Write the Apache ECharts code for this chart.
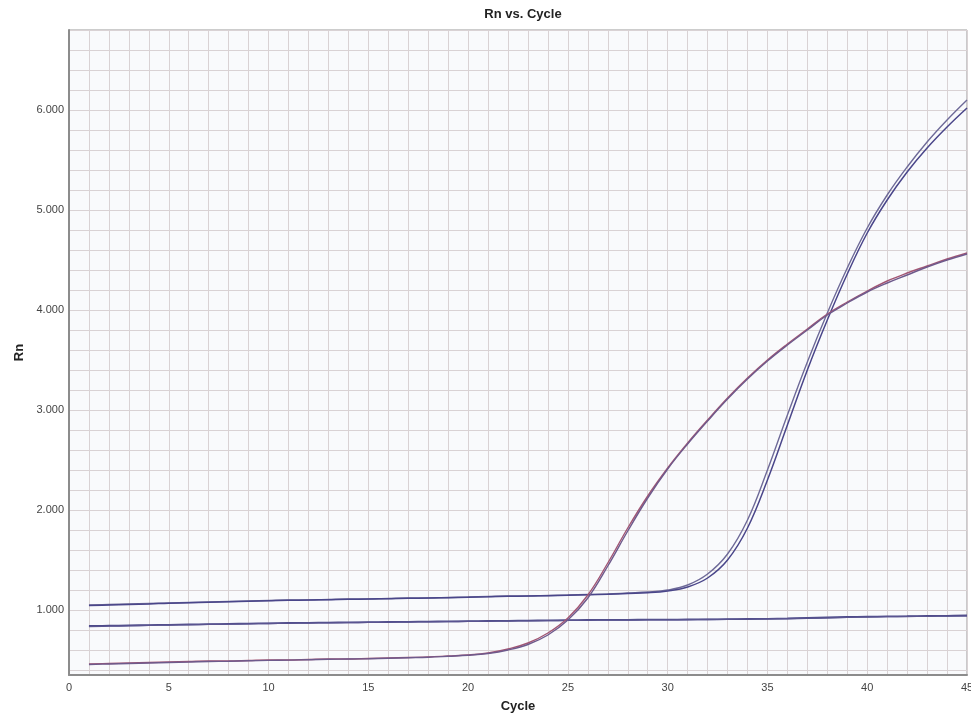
<!DOCTYPE html>
<html>
<head>
<meta charset="utf-8">
<script src="https://cdn.jsdelivr.net/npm/echarts@6/dist/echarts.min.js"></script>
<style>
html,body{margin:0;padding:0;background:#fff;}
#chart{width:971px;height:716px;}
</style>
</head>
<body>
<div id="chart"></div>
<script>
const cycles = [1,2,3,4,5,6,7,8,9,10,11,12,13,14,15,16,17,18,19,20,21,22,23,24,25,26,27,28,29,30,31,32,33,34,35,36,37,38,39,40,41,42,43,44,45];

const upperA1 = [1.050,1.055,1.060,1.065,1.070,1.075,1.080,1.085,1.090,1.095,1.100,1.100,1.105,1.110,1.110,1.115,1.120,1.120,1.125,1.130,1.135,1.140,1.140,1.145,1.150,1.155,1.160,1.170,1.180,1.200,1.250,1.360,1.560,1.900,2.400,2.950,3.480,3.970,4.420,4.820,5.150,5.430,5.680,5.900,6.100];
const upperA2 = [1.045,1.050,1.055,1.060,1.068,1.072,1.078,1.083,1.088,1.093,1.097,1.100,1.103,1.107,1.110,1.113,1.117,1.120,1.123,1.127,1.132,1.137,1.140,1.143,1.147,1.152,1.157,1.165,1.172,1.190,1.230,1.320,1.500,1.820,2.300,2.850,3.400,3.900,4.360,4.770,5.100,5.380,5.620,5.830,6.020];

const middleB1 = [0.840,0.843,0.846,0.849,0.852,0.855,0.858,0.861,0.864,0.867,0.870,0.872,0.874,0.876,0.878,0.880,0.882,0.884,0.886,0.888,0.890,0.892,0.894,0.896,0.898,0.900,0.901,0.902,0.903,0.904,0.905,0.906,0.908,0.910,0.912,0.915,0.920,0.925,0.930,0.933,0.936,0.938,0.940,0.942,0.945];
const middleB2 = [0.835,0.838,0.842,0.846,0.850,0.853,0.856,0.859,0.862,0.865,0.868,0.870,0.872,0.874,0.876,0.878,0.880,0.882,0.884,0.886,0.888,0.890,0.892,0.894,0.896,0.898,0.899,0.900,0.901,0.902,0.903,0.905,0.907,0.909,0.911,0.914,0.918,0.922,0.927,0.930,0.933,0.935,0.937,0.939,0.941];

const lowerC1 = [0.460,0.465,0.470,0.475,0.480,0.485,0.490,0.490,0.495,0.500,0.500,0.505,0.510,0.510,0.515,0.520,0.525,0.530,0.540,0.550,0.570,0.610,0.670,0.770,0.920,1.150,1.470,1.820,2.140,2.420,2.670,2.900,3.120,3.320,3.500,3.660,3.810,3.960,4.080,4.190,4.290,4.370,4.440,4.510,4.570];
const lowerC2 = [0.455,0.460,0.465,0.470,0.475,0.480,0.485,0.488,0.492,0.496,0.499,0.503,0.507,0.510,0.513,0.518,0.523,0.528,0.537,0.547,0.565,0.600,0.655,0.750,0.900,1.120,1.440,1.790,2.120,2.410,2.660,2.890,3.110,3.310,3.490,3.650,3.800,3.950,4.070,4.180,4.270,4.350,4.430,4.500,4.560];

const xTickLabels = [0,5,10,15,20,25,30,35,40,45];
const yTickLabels = [1,2,3,4,5,6];
const yGridValues = [0.4,0.6,0.8,1.0,1.2,1.4,1.6,1.8,2.0,2.2,2.4,2.6,2.8,3.0,3.2,3.4,3.6,3.8,4.0,4.2,4.4,4.6,4.8,5.0,5.2,5.4,5.6,5.8,6.0,6.2,6.4,6.6,6.8];

function pairs(vals){ return cycles.map((c,i)=>[c, vals[i]]); }

function lineSeries(name, vals, color, width){
  return {
    name: name, type: 'line', data: pairs(vals), showSymbol: false, smooth: 0.4,
    lineStyle: {color: color, width: width}, silent: true, animation: false, z: 3
  };
}

const chart = echarts.init(document.getElementById('chart'), null, {renderer: 'canvas'});
chart.setOption({
  backgroundColor: '#ffffff',
  animation: false,
  title: {
    text: 'Rn vs. Cycle', left: 518, top: 3, textAlign: 'center',
    textStyle: {fontFamily: 'Liberation Sans, Arial, sans-serif', fontSize: 13, fontWeight: 'bold', color: '#222'}
  },
  grid: {
    left: 69, right: 4, top: 30, bottom: 41, containLabel: false, outerBoundsMode: 'none',
    show: true, backgroundColor: '#f9fafc', borderColor: '#9a9a9a', borderWidth: 1
  },
  xAxis: {
    type: 'value', min: 0, max: 45, interval: 1,
    name: 'Cycle', nameLocation: 'middle', nameGap: 25,
    nameTextStyle: {fontFamily: 'Liberation Sans, Arial, sans-serif', fontSize: 13, fontWeight: 'bold', color: '#222'},
    axisLine: {show: true, lineStyle: {color: '#8c8c8c', width: 2}},
    axisTick: {show: false},
    axisLabel: {
      margin: 7, color: '#444', fontSize: 11, fontFamily: 'Liberation Sans, Arial, sans-serif',
      formatter: function(v){ return xTickLabels.indexOf(v) >= 0 ? String(v) : ''; }
    },
    splitLine: {show: true, lineStyle: {color: '#d9d2d4', width: 1}}
  },
  yAxis: {
    type: 'value', min: 0.35, max: 6.8,
    name: 'Rn', nameLocation: 'middle', nameGap: 43, nameRotate: 90,
    nameTextStyle: {fontFamily: 'Liberation Sans, Arial, sans-serif', fontSize: 13, fontWeight: 'bold', color: '#222'},
    axisLine: {show: true, lineStyle: {color: '#8c8c8c', width: 2}},
    axisTick: {show: false, customValues: yGridValues},
    axisLabel: {
      customValues: yTickLabels, margin: 5, color: '#444', fontSize: 11,
      fontFamily: 'Liberation Sans, Arial, sans-serif',
      formatter: function(v){ return v.toFixed(3); }
    },
    splitLine: {show: true, lineStyle: {color: '#d9d2d4', width: 1}}
  },
  series: [
    lineSeries('B1', middleB1, '#4a4888', 1.8),
    lineSeries('B2', middleB2, '#5a5490', 1.3),
    lineSeries('A1', upperA1, '#6e6a98', 1.4),
    lineSeries('A2', upperA2, '#4a468a', 1.5),
    lineSeries('C1', lowerC1, '#a25674', 1.4),
    lineSeries('C2', lowerC2, '#6e5a8c', 1.4)
  ]
});
</script>
</body>
</html>
